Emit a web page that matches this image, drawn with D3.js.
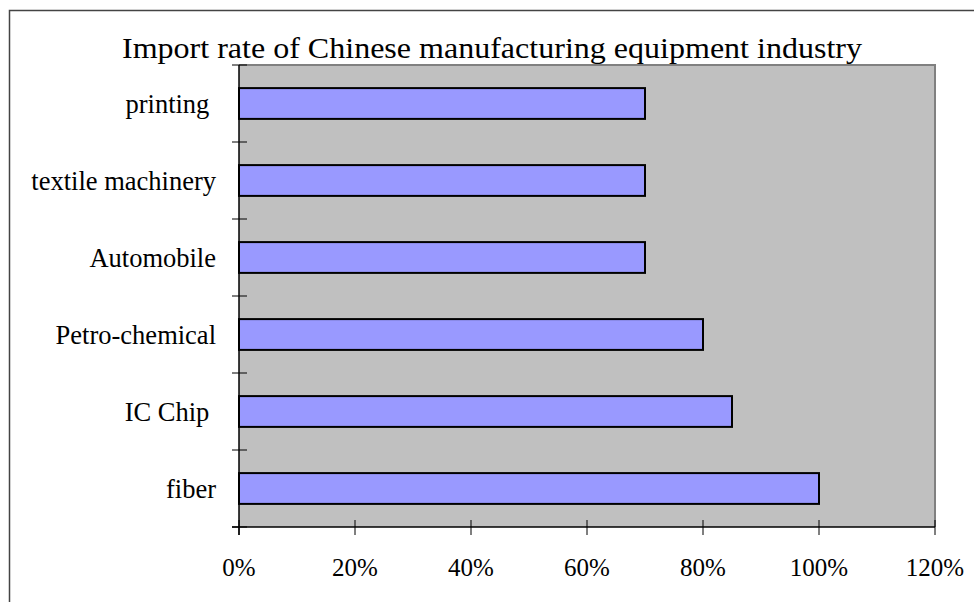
<!DOCTYPE html>
<html>
<head>
<meta charset="utf-8">
<script src="https://cdn.jsdelivr.net/npm/d3@7"></script>
<style>
  body { margin: 0; background: #fff; }
  text { font-family: "Liberation Serif", "Times New Roman", serif; fill: #000; }
</style>
</head>
<body>
<script>
var categories = ["printing ", "textile machinery", "Automobile", "Petro-chemical", "IC Chip ", "fiber"];
var importRates = [0.70, 0.70, 0.70, 0.80, 0.85, 1.00];
var xTicks = [0, 0.2, 0.4, 0.6, 0.8, 1.0, 1.2];
var title = "Import rate of Chinese manufacturing equipment industry";

var width = 974, height = 602;
var plot = {left: 239, right: 935, top: 65, bottom: 527};

var svg = d3.select("body").append("svg")
    .attr("width", width).attr("height", height);

// outer chart border (runs off the bottom/right of the picture)
svg.append("rect")
    .attr("x", 9.5).attr("y", 10.5)
    .attr("width", 1000).attr("height", 700)
    .attr("fill", "#fff")
    .attr("stroke", "#444").attr("stroke-width", 1.5);

var x = d3.scaleLinear().domain([0, 1.2]).range([plot.left, plot.right]);
var y = d3.scaleBand().domain(categories).range([plot.top, plot.bottom])
    .paddingInner(0.6).paddingOuter(0.3);

// plot area
svg.append("rect")
    .attr("x", plot.left).attr("y", plot.top)
    .attr("width", plot.right - plot.left).attr("height", plot.bottom - plot.top)
    .attr("fill", "#c0c0c0");
svg.append("path")
    .attr("d", "M" + plot.left + "," + plot.top + "H" + plot.right + "V" + plot.bottom)
    .attr("fill", "none").attr("stroke", "#808080").attr("stroke-width", 2);

// bars
svg.selectAll("rect.bar")
    .data(importRates)
    .enter().append("rect")
    .attr("class", "bar")
    .attr("x", x(0))
    .attr("y", function(d, i) { return y(categories[i]); })
    .attr("width", function(d) { return x(d) - x(0); })
    .attr("height", y.bandwidth())
    .attr("fill", "#9999ff")
    .attr("stroke", "#000").attr("stroke-width", 2);

// y axis: line, boundary ticks that cross the axis, labels
var bounds = d3.range(categories.length + 1).map(function(i) { return plot.top + i * (plot.bottom - plot.top) / categories.length; });
svg.append("line")
    .attr("x1", plot.left).attr("x2", plot.left)
    .attr("y1", plot.top).attr("y2", plot.bottom + 8)
    .attr("stroke", "#000").attr("stroke-width", 1.5);
svg.selectAll("line.ytick")
    .data(bounds)
    .enter().append("line")
    .attr("class", "ytick")
    .attr("x1", plot.left - 7).attr("x2", plot.left + 8)
    .attr("y1", function(d) { return d; }).attr("y2", function(d) { return d; })
    .attr("stroke", "#000").attr("stroke-width", 1);
svg.selectAll("text.ylab")
    .data(categories)
    .enter().append("text")
    .attr("class", "ylab")
    .attr("x", 216)
    .attr("y", function(d) { return y(d) + y.bandwidth() / 2 + 9; })
    .attr("text-anchor", "end")
    .style("white-space", "pre")
    .style("font-size", "26.5px")
    .text(function(d) { return d; });

// x axis
svg.append("line")
    .attr("x1", plot.left - 7).attr("x2", plot.right)
    .attr("y1", plot.bottom).attr("y2", plot.bottom)
    .attr("stroke", "#000").attr("stroke-width", 1.5);
svg.selectAll("line.xtick")
    .data(xTicks)
    .enter().append("line")
    .attr("class", "xtick")
    .attr("x1", function(d) { return x(d); }).attr("x2", function(d) { return x(d); })
    .attr("y1", plot.bottom - 7).attr("y2", plot.bottom + 8)
    .attr("stroke", "#000").attr("stroke-width", 1);
svg.selectAll("text.xlab")
    .data(xTicks)
    .enter().append("text")
    .attr("class", "xlab")
    .attr("x", function(d) { return x(d); })
    .attr("y", 576)
    .attr("text-anchor", "middle")
    .style("font-size", "25px")
    .text(d3.format(".0%"));

// title
svg.append("text")
    .attr("x", 492).attr("y", 58)
    .attr("text-anchor", "middle")
    .attr("textLength", 740)
    .attr("lengthAdjust", "spacingAndGlyphs")
    .style("font-size", "29px")
    .text(title);
</script>
</body>
</html>
